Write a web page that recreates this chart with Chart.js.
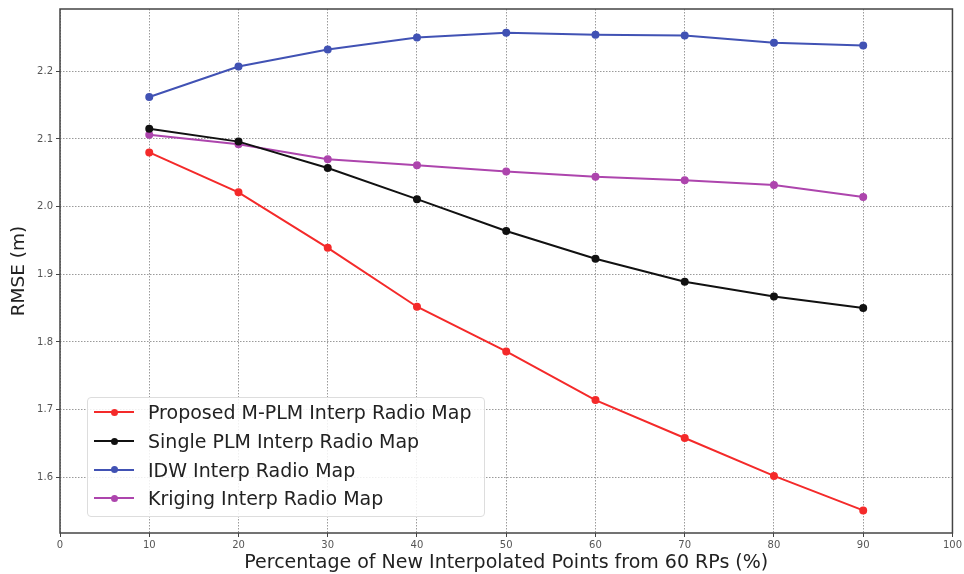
<!DOCTYPE html>
<html>
<head>
<meta charset="utf-8">
<script src="https://cdn.jsdelivr.net/npm/chart.js@4"></script>
<style>
  html, body { margin: 0; padding: 0; background: #fff; }
  #wrap { position: relative; width: 964px; height: 574px; }
  #legend {
    position: absolute; left: 87px; top: 397px; width: 398px; height: 120px;
    box-sizing: border-box; border: 1px solid #ddd; border-radius: 4px;
    background: rgba(255,255,255,0.85); padding: 0 0 0 6px;
    font-family: "DejaVu Sans", sans-serif; font-size: 19px; color: #222;
  }
  .item { height: 28.7px; display: flex; align-items: center; }
  .swatch { position: relative; width: 40px; height: 2px; margin-right: 14px; }
  .swatch span { position: absolute; left: 17px; top: -2.5px; width: 7px; height: 7px; border-radius: 50%; }
</style>
</head>
<body>
<div id="wrap">
  <canvas id="myChart" width="964" height="574"></canvas>
  <div id="legend"></div>
</div>
<script>
"use strict";

const pct = [10, 20, 30, 40, 50, 60, 70, 80, 90];
const proposed = [2.080, 2.021, 1.939, 1.852, 1.786, 1.714, 1.658, 1.602, 1.551];
const singlePlm = [2.115, 2.096, 2.057, 2.011, 1.964, 1.923, 1.889, 1.867, 1.850];
const idw = [2.162, 2.207, 2.232, 2.250, 2.257, 2.254, 2.253, 2.242, 2.238];
const kriging = [2.106, 2.092, 2.070, 2.061, 2.052, 2.044, 2.039, 2.032, 2.014];

const seriesNames = [
    'Proposed M-PLM Interp Radio Map',
    'Single PLM Interp Radio Map',
    'IDW Interp Radio Map',
    'Kriging Interp Radio Map'
];
const seriesColors = ['#f42a2a', '#111111', '#4152b4', '#ad45ad'];
const seriesValues = [proposed, singlePlm, idw, kriging];

const tickFont = {family: 'DejaVu Sans', size: 10};

// outer frame like the matplotlib box
const frame = {
    id: 'frame',
    afterDraw(chart) {
        const {ctx, chartArea: a} = chart;
        ctx.save();
        ctx.strokeStyle = '#444';
        ctx.lineWidth = 1.5;
        ctx.strokeRect(a.left, a.top, a.right - a.left, a.bottom - a.top);
        ctx.restore();
    }
};

const gridOpts = {color: '#9a9a9a', lineWidth: 1, tickLength: 4, tickColor: '#444', tickBorderDash: []};

const ctx = document.getElementById('myChart').getContext('2d');
const chart = new Chart(ctx, {
    type: 'line',
    data: {
        datasets: seriesValues.map((vals, i) => ({
            label: seriesNames[i],
            data: pct.map((p, j) => ({x: p, y: vals[j]})),
            borderColor: seriesColors[i],
            backgroundColor: seriesColors[i],
            borderWidth: 2,
            pointRadius: 3,
            pointHoverRadius: 3,
            tension: 0
        }))
    },
    options: {
        responsive: false,
        animation: false,
        layout: {padding: {top: 9, right: 8, left: 0, bottom: 0}},
        plugins: {
            legend: {display: false},
            tooltip: {enabled: false}
        },
        scales: {
            x: {
                type: 'linear',
                min: 0,
                max: 100,
                afterFit(scale) { scale.height = 41; },
                ticks: {stepSize: 10, font: tickFont, color: '#555', padding: 2, maxRotation: 0},
                grid: gridOpts,
                border: {display: false, dash: [1.5, 1.5]},
                title: {
                    display: true,
                    text: 'Percentage of New Interpolated Points from 60 RPs (%)',
                    font: {family: 'DejaVu Sans', size: 19},
                    color: '#222',
                    padding: {top: 0, bottom: 0}
                }
            },
            y: {
                min: 1.5176,
                max: 2.292,
                afterFit(scale) { scale.width = 60; },
                ticks: {
                    stepSize: 0.1,
                    includeBounds: false,
                    font: tickFont,
                    color: '#555',
                    padding: 3,
                    callback: v => v.toFixed(1)
                },
                grid: gridOpts,
                border: {display: false, dash: [1.5, 1.5]},
                title: {
                    display: true,
                    text: 'RMSE (m)',
                    font: {family: 'DejaVu Sans', size: 18.5},
                    color: '#222',
                    padding: {top: 8, bottom: 0}
                }
            }
        }
    },
    plugins: [frame]
});

// legend box inside the plot, built from the datasets
const legendEl = document.getElementById('legend');
chart.data.datasets.forEach(ds => {
    const row = document.createElement('div');
    row.className = 'item';
    row.innerHTML = '<div class="swatch" style="background:' + ds.borderColor + '"><span style="background:' +
        ds.borderColor + '"></span></div>' + ds.label;
    legendEl.appendChild(row);
});
</script>
</body>
</html>
